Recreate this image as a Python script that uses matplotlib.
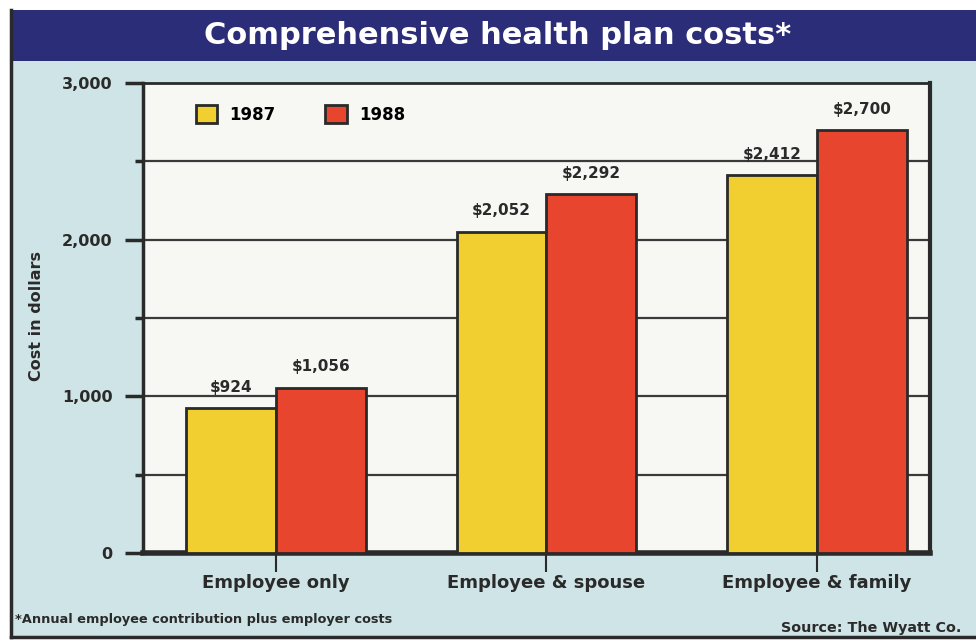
import numpy as np
import matplotlib
matplotlib.use("Agg")
import matplotlib.pyplot as plt
from matplotlib.patches import Rectangle

# data
categories = ["Employee only", "Employee & spouse", "Employee & family"]
years = ["1987", "1988"]
costs_1987 = [924, 2052, 2412]
costs_1988 = [1056, 2292, 2700]
value_labels_1987 = ["$924", "$2,052", "$2,412"]
value_labels_1988 = ["$1,056", "$2,292", "$2,700"]
yticks = [0, 1000, 2000, 3000]
ytick_labels = ["0", "1,000", "2,000", "3,000"]
minor_ticks = [500, 1500, 2500]

yellow = "#f2cf30"
red = "#e8452f"
navy = "#2b2d78"
bg_blue = "#cfe4e6"
plot_bg = "#f7f7f3"
ink = "#2a2a2a"

plt.rcParams['font.family'] = ['DejaVu Sans']

W, H = 976, 644
fig = plt.figure(figsize=(W / 100, H / 100), dpi=100)
fig.patch.set_facecolor("white")

def px(x0, y0, x1, y1):
    # pixel box -> figure fraction (left, bottom, width, height)
    return (x0 / W, 1 - y1 / H, (x1 - x0) / W, (y1 - y0) / H)

# light blue panel and navy title bar
l, b, w, h = px(11, 61, 976, 637)
fig.patches.append(Rectangle((l, b), w, h, transform=fig.transFigure,
                             facecolor=bg_blue, edgecolor="none", zorder=-5))
l, b, w, h = px(11, 10, 976, 61)
fig.patches.append(Rectangle((l, b), w, h, transform=fig.transFigure,
                             facecolor=navy, edgecolor="none", zorder=-5))
# outer frame lines (left and bottom)
fig.add_artist(plt.Line2D([11 / W, 11 / W], [1 - 10 / H, 1 - 637 / H],
                          transform=fig.transFigure, color=ink, lw=2.5))
fig.add_artist(plt.Line2D([11 / W, 976 / W], [1 - 637 / H, 1 - 637 / H],
                          transform=fig.transFigure, color=ink, lw=2.5))

fig.text(498 / W, 1 - 36 / H, "Comprehensive health plan costs*", color="white",
         fontsize=22, fontweight="bold", ha="center", va="center")

ax = fig.add_axes(px(143, 83, 930, 553))
ax.set_facecolor(plot_bg)

x = np.arange(len(categories))
bw = 0.333
b1 = ax.bar(x - bw / 2, costs_1987, bw, color=yellow, edgecolor=ink, linewidth=2, zorder=3)
b2 = ax.bar(x + bw / 2, costs_1988, bw, color=red, edgecolor=ink, linewidth=2, zorder=3)

for i in range(len(categories)):
    ax.text(x[i] - bw / 2, costs_1987[i] + 85, value_labels_1987[i], ha="center", va="bottom",
            fontsize=11, fontweight="bold", color=ink)
    ax.text(x[i] + bw / 2, costs_1988[i] + 85, value_labels_1988[i], ha="center", va="bottom",
            fontsize=11, fontweight="bold", color=ink)

ax.set_xlim(-0.493, 2.419)
ax.set_ylim(0, 3000)

# gridlines at every 500
for g in minor_ticks + [1000, 2000]:
    ax.axhline(g, color="#3a3a3a", lw=1.6, zorder=1)

ax.set_yticks(yticks)
ax.set_yticklabels(ytick_labels, fontsize=11.5, fontweight="bold", color=ink)
ax.set_yticks(minor_ticks, minor=True)
ax.tick_params(axis="y", which="major", length=13, width=2.5, color=ink, pad=9)
ax.tick_params(axis="y", which="minor", length=6, width=2.5, color=ink)
ax.set_xticks(x)
ax.set_xticklabels(categories, fontsize=13, fontweight="bold", color=ink)
ax.tick_params(axis="x", length=14, width=1.5, color=ink, pad=1)

for side, lw in [("left", 2.5), ("bottom", 4), ("top", 2), ("right", 3)]:
    ax.spines[side].set_linewidth(lw)
    ax.spines[side].set_color(ink)

ax.set_ylabel("Cost in dollars", fontsize=11.5, fontweight="bold", color=ink, labelpad=0)
ax.yaxis.set_label_coords(-0.126, 0.505)

leg = ax.legend([b1, b2], years, loc="upper left", bbox_to_anchor=(0.048, 0.985), ncol=2,
                frameon=False, handlelength=1.3, handleheight=1.3, columnspacing=3.0,
                handletextpad=0.7, prop={"weight": "bold", "size": 12})

fig.text(15 / W, 1 - 620 / H, "*Annual employee contribution plus employer costs",
         fontsize=9.3, fontweight="bold", color=ink, ha="left", va="center")
fig.text(961 / W, 1 - 628 / H, "Source: The Wyatt Co.",
         fontsize=10.3, fontweight="bold", color=ink, ha="right", va="center")

fig.savefig("out.png", dpi=100, facecolor=fig.get_facecolor())
